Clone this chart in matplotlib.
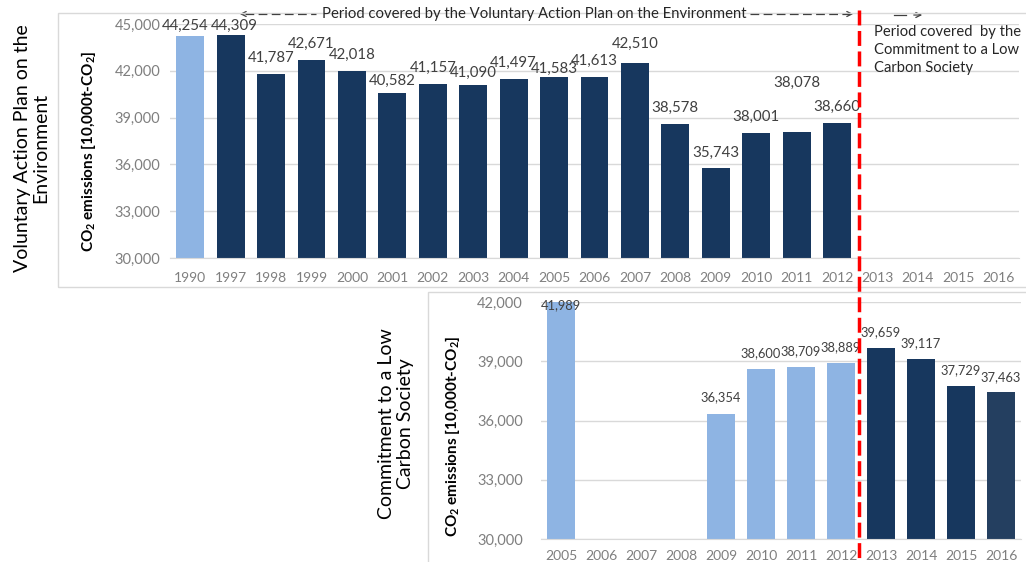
import matplotlib
matplotlib.use("Agg")
import matplotlib.pyplot as plt
from matplotlib.lines import Line2D
from matplotlib.patches import Rectangle, FancyArrowPatch

plt.rcParams['font.family'] = ['Lato', 'DejaVu Sans']
plt.rcParams['mathtext.default'] = 'regular'

# Voluntary Action Plan on the Environment (10,000 t-CO2)
vap_years = ['1990', '1997', '1998', '1999', '2000', '2001', '2002', '2003', '2004', '2005',
             '2006', '2007', '2008', '2009', '2010', '2011', '2012', '2013', '2014', '2015', '2016']
vap_values = [44254, 44309, 41787, 42671, 42018, 40582, 41157, 41090, 41497, 41583,
              41613, 42510, 38578, 35743, 38001, 38078, 38660, None, None, None, None]

# Commitment to a Low Carbon Society (10,000 t-CO2)
lcs_years = ['2005', '2006', '2007', '2008', '2009', '2010', '2011', '2012',
             '2013', '2014', '2015', '2016']
lcs_values = [41989, None, None, None, 36354, 38600, 38709, 38889,
              39659, 39117, 37729, 37463]

LIGHT = '#8EB4E3'
NAVY = '#17375E'
NAVY2 = '#243F60'
GRID = '#D9D9D9'
TICK = '#7F7F7F'
LABEL = '#404040'

W, H = 1026, 562


def fx(px):
    return px / W


def fy(py):
    return 1 - py / H


fig = plt.figure(figsize=(W / 100, H / 100), dpi=100)

# outer chart frames
fig.patches.append(Rectangle((fx(58), fy(287)), fx(1035) - fx(58), fy(13) - fy(287),
                             transform=fig.transFigure, fill=False, ec=GRID, lw=1))
fig.patches.append(Rectangle((fx(428), fy(600)), fx(1035) - fx(428), fy(292) - fy(600),
                             transform=fig.transFigure, fill=False, ec=GRID, lw=1))


def style_axes(ax, ymin, ymax, xlabels, ypad, xpad):
    ax.set_ylim(ymin, ymax)
    ax.set_yticks(range(ymin, ymax + 1, 3000))
    ax.set_yticklabels([f'{v:,}' for v in range(ymin, ymax + 1, 3000)])
    ax.set_xlim(-0.5, len(xlabels) - 0.5)
    ax.set_xticks(range(len(xlabels)))
    ax.set_xticklabels(xlabels)
    for s in ['top', 'right', 'left']:
        ax.spines[s].set_visible(False)
    ax.spines['bottom'].set_color(GRID)
    ax.grid(axis='y', color=GRID, lw=1)
    ax.set_axisbelow(True)
    ax.tick_params(length=0, colors=TICK)
    ax.tick_params(axis='x', pad=xpad, labelsize=10)
    ax.tick_params(axis='y', pad=ypad, labelsize=10.5)
    ax.patch.set_alpha(0)


def bar_labels(ax, xs, vals, bars, lift, shift, fs):
    # lift/shift are label-centre offsets from the bar top, in pixels
    for i, v, b in zip(xs, vals, bars):
        ax.annotate(f'{v:,}', (b.get_x() + b.get_width() / 2, v),
                    xytext=(shift.get(i, 0) * 0.72, lift.get(i, 16) * 0.72),
                    textcoords='offset points', ha='center', va='center',
                    fontsize=fs, color=LABEL)


ylabel = 'CO$_2$ emissions [10,000t-CO$_2$]'

# top chart
ax1 = fig.add_axes([fx(170), fy(258), fx(1019) - fx(170), fy(24) - fy(258)])
style_axes(ax1, 30000, 45000, vap_years, 7, 10)
top_x = [i for i, v in enumerate(vap_values) if v is not None]
top_v = [vap_values[i] for i in top_x]
top_c = [LIGHT if i == 0 else NAVY for i in top_x]
bars1 = ax1.bar(top_x, top_v, width=0.69, color=top_c)
bar_labels(ax1, top_x, top_v, bars1,
           lift={0: 10, 1: 9, 5: 12, 7: 12, 9: 8, 11: 19, 15: 49},
           shift={0: -5, 1: 4}, fs=10.8)
fig.text(fx(88), fy(151), ylabel, rotation=90, ha='center', va='center',
         fontsize=11, fontweight='bold', color='black')

# bottom chart
ax2 = fig.add_axes([fx(541), fy(539), fx(1021) - fx(541), fy(302) - fy(539)])
style_axes(ax2, 30000, 42000, lcs_years, 13, 8)
bot_x = [i for i, v in enumerate(lcs_values) if v is not None]
bot_v = [lcs_values[i] for i in bot_x]
bot_c = [LIGHT if i < 8 else (NAVY2 if i == 11 else NAVY) for i in bot_x]
bars2 = ax2.bar(bot_x, bot_v, width=0.69, color=bot_c)
bar_labels(ax2, bot_x, bot_v, bars2, lift={0: -3, 11: 14}, shift={}, fs=9.3)
fig.text(fx(453), fy(436), ylabel, rotation=90, ha='center', va='center',
         fontsize=11, fontweight='bold', color='black')

# series titles
fig.text(fx(32), fy(148), 'Voluntary Action Plan on the\nEnvironment', rotation=90,
         ha='center', va='center', fontsize=14, color='black', linespacing=1.1)
fig.text(fx(396), fy(424), 'Commitment to a Low\nCarbon Society', rotation=90,
         ha='center', va='center', fontsize=14, color='black', linespacing=1.1)

# boundary between the two periods
fig.add_artist(Line2D([fx(859), fx(859)], [fy(10), fy(562)], transform=fig.transFigure,
                      color='#FF0000', lw=2.5, linestyle=(0, (4.3, 1.6))))

# period arrows
dash = dict(color='#404040', lw=0.9, linestyle=(0, (7, 3.5)))
fig.add_artist(Line2D([fx(245), fx(316)], [fy(14), fy(14)], transform=fig.transFigure, **dash))
fig.add_artist(Line2D([fx(750), fx(850)], [fy(14), fy(14)], transform=fig.transFigure, **dash))
fig.add_artist(Line2D([fx(894), fx(906)], [fy(15), fy(15)], transform=fig.transFigure,
                      color='#404040', lw=0.9))
arrow = dict(arrowstyle='->', color='#404040', lw=0.9, mutation_scale=9)
fig.add_artist(FancyArrowPatch((fx(247), fy(14)), (fx(237), fy(14)),
                               transform=fig.transFigure, **arrow))
fig.add_artist(FancyArrowPatch((fx(845), fy(14)), (fx(856), fy(14)),
                               transform=fig.transFigure, **arrow))
fig.add_artist(FancyArrowPatch((fx(911), fy(15)), (fx(925), fy(15)),
                               transform=fig.transFigure, **arrow))
fig.text(fx(534), fy(14), 'Period covered by the Voluntary Action Plan on the Environment',
         ha='center', va='center', fontsize=10.7, color='#262626')
fig.text(fx(874), fy(50), 'Period covered  by the\nCommitment to a Low\nCarbon Society',
         ha='left', va='center', fontsize=10.6, color='#262626', linespacing=1.4)

fig.savefig('out.png', dpi=100)
